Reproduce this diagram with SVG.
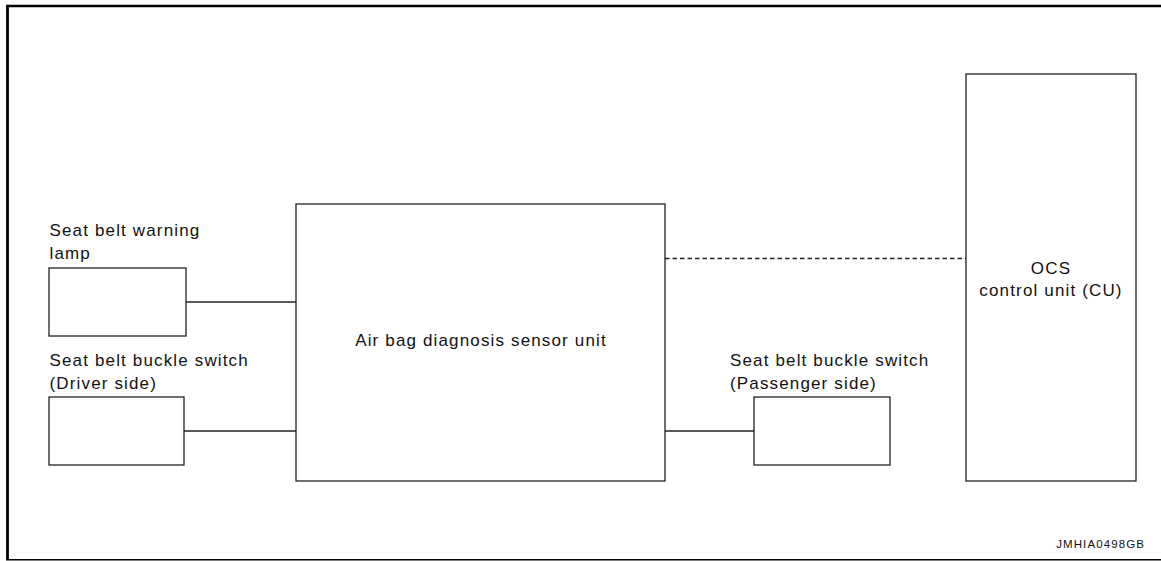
<svg xmlns="http://www.w3.org/2000/svg" width="1161" height="561" viewBox="0 0 1161 561">
<style>
.box{fill:#fff;stroke:#222;stroke-width:1.3}
.lbl{font-family:"Liberation Sans",Arial,sans-serif;font-size:17px;letter-spacing:1.15px;fill:#111}
.mid{text-anchor:middle}
.wire{stroke:#222;stroke-width:1.3;fill:none}
.dash{stroke:#222;stroke-width:1.3;fill:none;stroke-dasharray:4.5 3}
</style>
<rect width="1161" height="561" fill="#fff"/>
<g id="frame">
<line x1="6" y1="6" x2="1161" y2="6" stroke="#000" stroke-width="2.6"/>
<line x1="7.5" y1="5" x2="7.5" y2="560" stroke="#000" stroke-width="2.8"/>
<line x1="6" y1="559.8" x2="1161" y2="559.8" stroke="#000" stroke-width="1.6"/>
</g>
<g id="connectors">
<line class="wire" x1="186" y1="302" x2="296" y2="302"/>
<line class="wire" x1="184" y1="431" x2="296" y2="431"/>
<line class="wire" x1="665" y1="431" x2="754" y2="431"/>
<line class="dash" x1="665" y1="258.5" x2="966" y2="258.5"/>
</g>
<g id="lamp">
<text class="lbl" x="49.5" y="235.5">Seat belt warning</text>
<text class="lbl" x="49.5" y="258.5">lamp</text>
<rect class="box" x="49" y="268" width="137" height="68"/>
</g>
<g id="driver-switch">
<text class="lbl" x="49.5" y="365.5">Seat belt buckle switch</text>
<text class="lbl" x="49.5" y="388.5">(Driver side)</text>
<rect class="box" x="49" y="397" width="135" height="68"/>
</g>
<g id="airbag-unit">
<rect class="box" x="296" y="204" width="369" height="277"/>
<text class="lbl mid" x="481" y="346">Air bag diagnosis sensor unit</text>
</g>
<g id="passenger-switch">
<text class="lbl" x="730" y="365.5">Seat belt buckle switch</text>
<text class="lbl" x="730" y="388.5">(Passenger side)</text>
<rect class="box" x="754" y="397" width="136" height="68"/>
</g>
<g id="ocs-unit">
<rect class="box" x="966" y="74" width="170" height="407"/>
<text class="lbl mid" x="1051" y="273.5">OCS</text>
<text class="lbl mid" x="1051" y="295.5">control unit (CU)</text>
</g>
<text x="1145" y="548" text-anchor="end" font-family="Liberation Sans,Arial,sans-serif" font-size="11.5" letter-spacing="1.1" fill="#111">JMHIA0498GB</text>
</svg>
